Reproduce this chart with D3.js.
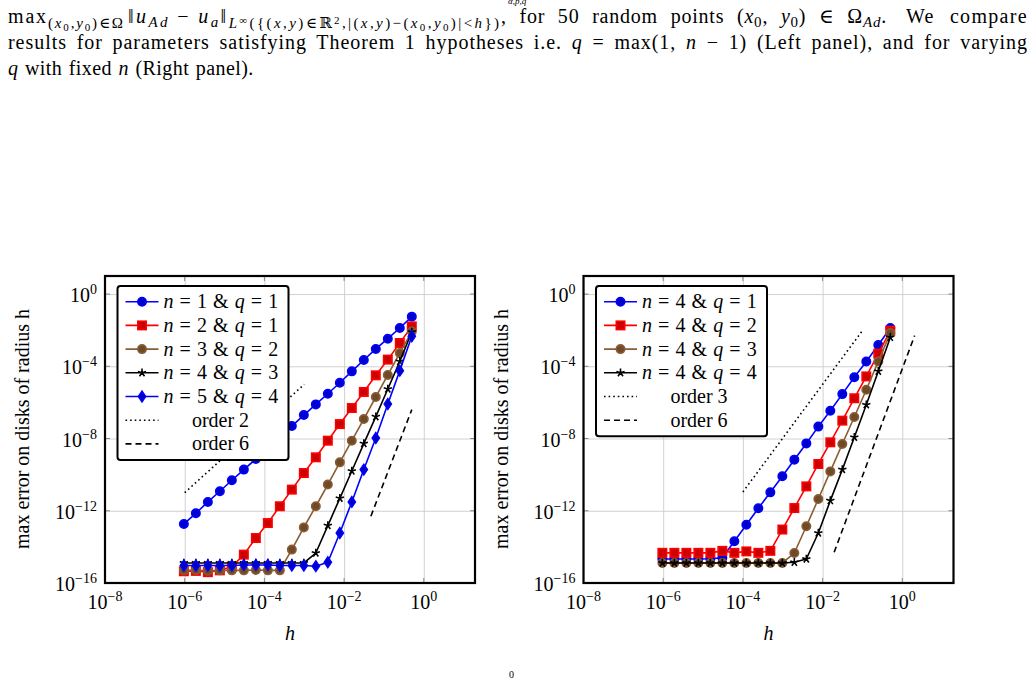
<!DOCTYPE html>
<html lang="en">
<head>
<meta charset="UTF-8">
<title>max error on disks of radius h</title>
<script src="https://cdn.jsdelivr.net/npm/d3@7/dist/d3.min.js"></script>
<style>
    body { margin: 0; background: #fff; }
    svg text { font-family: "Liberation Serif", "DejaVu Serif", serif; fill: #000; white-space: pre; }
</style>
</head>
<body>
<div id="d3"></div>
<script>
    var width = 1034;
    var height = 679;

    // h = 2^-20 ... 2^-1
    var hValues = [9.537e-7, 1.907e-6, 3.815e-6, 7.629e-6, 1.526e-5, 3.052e-5, 6.104e-5, 1.221e-4, 2.441e-4, 4.883e-4,
                   9.766e-4, 1.953e-3, 3.906e-3, 7.813e-3, 1.563e-2, 3.125e-2, 6.25e-2, 0.125, 0.25, 0.5];

    // log10 of the max error
    // left panel: q = max(1, n-1)
    var leftN1Q1 = [-12.73, -12.14, -11.51, -10.92, -10.31, -9.72, -9.13, -8.52, -7.91, -7.31,
                    -6.70, -6.11, -5.52, -4.91, -4.28, -3.65, -3.04, -2.47, -1.88, -1.25];
    var leftN2Q1 = [-15.35, -15.33, -15.40, -15.30, -15.10, -14.43, -13.51, -12.68, -11.75, -10.83,
                    -9.91, -9.04, -8.12, -7.20, -6.31, -5.42, -4.50, -3.63, -2.71, -1.79];
    var leftN3Q2 = [-15.30, -15.28, -15.32, -15.30, -15.30, -15.30, -15.28, -15.30, -15.30, -14.15,
                    -12.92, -11.75, -10.55, -9.32, -8.12, -6.92, -5.70, -4.48, -3.27, -2.07];
    var leftN4Q3 = [-14.89, -14.89, -14.89, -14.89, -14.89, -14.89, -14.89, -14.89, -14.89, -14.89,
                    -14.89, -14.34, -12.82, -11.31, -9.80, -8.28, -6.79, -5.26, -3.73, -2.10];
    var leftN5Q4 = [-15.03, -15.03, -15.03, -15.03, -15.03, -15.00, -15.00, -15.00, -15.03, -15.03,
                    -15.03, -15.07, -14.85, -13.23, -11.51, -9.72, -7.97, -6.09, -4.24, -2.34];

    // right panel: n = 4, varying q
    var rightQ1 = [-14.67, -14.67, -14.67, -14.67, -14.66, -14.60, -13.69, -12.77, -11.86, -10.98,
                   -10.09, -9.17, -8.27, -7.34, -6.46, -5.54, -4.61, -3.73, -2.82, -1.88];
    var rightQ2 = [-14.33, -14.33, -14.33, -14.33, -14.33, -14.22, -14.33, -14.25, -14.33, -14.22,
                   -13.04, -11.85, -10.65, -9.41, -8.21, -7.01, -5.77, -4.56, -3.30, -2.03];
    var rightQ3 = [-14.89, -14.89, -14.89, -14.89, -14.89, -14.89, -14.89, -14.89, -14.89, -14.89,
                   -14.89, -14.34, -12.86, -11.35, -9.82, -8.30, -6.81, -5.30, -3.73, -2.16];
    var rightQ4 = [-14.89, -14.89, -14.89, -14.89, -14.89, -14.89, -14.89, -14.89, -14.89, -14.89,
                   -14.89, -14.85, -14.67, -13.23, -11.44, -9.72, -7.93, -6.13, -4.28, -2.40];

    // reference slopes: [h start, h end], [err start, err end]
    var leftOrder2H = [1e-6, 1e-3], leftOrder2E = [1e-11, 1e-5];
    var leftOrder6H = [0.047, 0.5], leftOrder6E = [5e-13, 4e-7];
    var rightOrder3H = [1e-4, 0.1], rightOrder3E = [1.1e-11, 9.5e-3];
    var rightOrder6H = [0.0195, 2.04], rightOrder6E = [5e-15, 5e-3];

    var leftLegendN = [1, 2, 3, 4, 5];
    var leftLegendQ = [1, 1, 2, 3, 4];
    var rightLegendN = [4, 4, 4, 4];
    var rightLegendQ = [1, 2, 3, 4];

    var xTickExp = [-8, -6, -4, -2, 0];
    var yTickExp = [-16, -12, -8, -4, 0];

    var blue = "#0000ff", red = "#ff0000", brown = "#8a5c33", black = "#000000";

    var svg = d3.select("#d3")
            .append("svg")
            .attr("width", width)
            .attr("height", height);

    // rich text: parts with optional italic (i), size (f) and baseline shift (s, + is down)
    function rich(sel, parts) {
        var shift = 0;
        parts.forEach(function (p) {
            var s = p.s || 0;
            var t = sel.append("tspan").text(p.t).attr("dy", s - shift);
            shift = s;
            if (p.i) t.style("font-style", "italic");
            if (p.f) t.style("font-size", p.f + "px");
        });
        return sel;
    }

    // stretch a line to a given width: part letter spacing, rest word spacing
    function justify(sel, target, share) {
        var node = sel.node();
        var w = node.getComputedTextLength();
        var txt = node.textContent;
        if (target <= w) return;
        sel.style("letter-spacing", ((target - w) * share / txt.length) + "px");
        w = node.getComputedTextLength();
        var n = (txt.match(/ /g) || []).length;
        if (n > 0 && target > w) sel.style("word-spacing", ((target - w) / n) + "px");
    }

    function capText(x, y) {
        return svg.append("text").attr("x", x).attr("y", y).style("font-size", "20px");
    }

    // caption, line 1 in pieces
    var S = 15, SS = 11;
    var capA = capText(8, 23);
    rich(capA, [
        {t: "max"},
        {t: "(", f: S, s: 5}, {t: "x", i: 1, f: S, s: 5}, {t: "0", f: SS, s: 8}, {t: ",", f: S, s: 5},
        {t: "y", i: 1, f: S, s: 5}, {t: "0", f: SS, s: 8}, {t: ")∈Ω", f: S, s: 5}
    ]);
    capA.attr("textLength", 115).attr("lengthAdjust", "spacing");

    var capB = capText(128, 23);
    rich(capB, [
        {t: "‖"}, {t: "u", i: 1}, {t: "Ad", i: 1, f: S, s: 4}, {t: " − "}, {t: "u", i: 1},
        {t: "a", i: 1, f: S, s: 4}, {t: "‖"},
        {t: "L", i: 1, f: S, s: 5}, {t: "∞", f: SS, s: 1}, {t: "({(", f: S, s: 5}, {t: "x", i: 1, f: S, s: 5},
        {t: ",", f: S, s: 5}, {t: "y", i: 1, f: S, s: 5}, {t: ")∈ℝ", f: S, s: 5}, {t: "2", f: SS, s: 1},
        {t: ",|(", f: S, s: 5}, {t: "x", i: 1, f: S, s: 5}, {t: ",", f: S, s: 5}, {t: "y", i: 1, f: S, s: 5},
        {t: ")−(", f: S, s: 5}, {t: "x", i: 1, f: S, s: 5}, {t: "0", f: SS, s: 8}, {t: ",", f: S, s: 5},
        {t: "y", i: 1, f: S, s: 5}, {t: "0", f: SS, s: 8}, {t: ")|<", f: S, s: 5}, {t: "h", i: 1, f: S, s: 5},
        {t: "})", f: S, s: 5}
    ]);
    capB.attr("textLength", 371).attr("lengthAdjust", "spacing");

    var capC = capText(501, 23);
    rich(capC, [
        {t: ", for 50 random points ("}, {t: "x", i: 1}, {t: "0", f: S, s: 4}, {t: ", "}, {t: "y", i: 1},
        {t: "0", f: S, s: 4}, {t: ") ∈ Ω"}, {t: "Ad", i: 1, f: S, s: 4}, {t: "."}
    ]);
    justify(capC, 386, 0.35);

    var capD = capText(1028, 23).attr("text-anchor", "end").text("We compare");
    justify(capD, 122, 0.6);

    var cap2 = capText(8, 49);
    rich(cap2, [
        {t: "results for parameters satisfying Theorem 1 hypotheses i.e. "}, {t: "q", i: 1},
        {t: " = max(1, "}, {t: "n", i: 1}, {t: " − 1) (Left panel), and for varying"}
    ]);
    justify(cap2, 1020, 0.6);

    var cap3 = capText(8, 75).style("letter-spacing", "0.45px").style("word-spacing", "1px");
    rich(cap3, [{t: "q", i: 1}, {t: " with fixed "}, {t: "n", i: 1}, {t: " (Right panel)."}]);

    // edge bits of the page above and below (cut off in the page too)
    svg.append("text").attr("x", 508).attr("y", 3.5).style("font-size", "9px").style("font-style", "italic").text("α,p,q");
    svg.append("text").attr("x", 509).attr("y", 678).style("font-size", "10px").text("0");

    function marker(g, type, color, fill, cx, cy) {
        if (type === "circle") {
            g.append("circle").attr("cx", cx).attr("cy", cy).attr("r", 4.2)
                .attr("fill", fill).attr("stroke", color).attr("stroke-width", 1.6);
        } else if (type === "square") {
            g.append("rect").attr("x", cx - 4.2).attr("y", cy - 4.2).attr("width", 8.4).attr("height", 8.4)
                .attr("fill", fill).attr("stroke", color).attr("stroke-width", 1.6);
        } else if (type === "diamond") {
            g.append("path").attr("d", "M" + cx + "," + (cy - 5.6) + "L" + (cx + 3.8) + "," + cy + "L" + cx + "," + (cy + 5.6) + "L" + (cx - 3.8) + "," + cy + "Z")
                .attr("fill", fill).attr("stroke", color).attr("stroke-width", 1.2);
        } else if (type === "star") {
            var d = "";
            for (var k = 0; k < 5; k++) {
                var a = -Math.PI / 2 + k * 2 * Math.PI / 5;
                d += "M" + cx + "," + cy + "L" + (cx + 4.3 * Math.cos(a)) + "," + (cy + 4.3 * Math.sin(a));
            }
            g.append("path").attr("d", d).attr("stroke", color).attr("stroke-width", 1.6).attr("fill", "none");
        }
    }

    function drawPanel(x0, series, refs, legend) {
        var x = d3.scaleLog().domain([1e-8, Math.pow(10, 1.285)]).range([x0, x0 + 370]);
        var y = d3.scaleLog().domain([1e-16, 10]).range([583, 276]);
        var g = svg.append("g");
        var top = 276, bottom = 583, left = x0, right = x0 + 370;

        // grid
        g.append("g").attr("transform", "translate(0," + bottom + ")")
            .call(d3.axisBottom(x).tickValues(xTickExp.map(function (e) { return Math.pow(10, e); }))
                .tickSize(-(bottom - top)).tickFormat(""))
            .call(function (a) {
                a.select(".domain").remove();
                a.selectAll("line").attr("stroke", "#cccccc").attr("stroke-width", 0.9);
            });
        g.append("g").attr("transform", "translate(" + left + ",0)")
            .call(d3.axisLeft(y).tickValues(yTickExp.map(function (e) { return Math.pow(10, e); }))
                .tickSize(-(right - left)).tickFormat(""))
            .call(function (a) {
                a.select(".domain").remove();
                a.selectAll("line").attr("stroke", "#cccccc").attr("stroke-width", 0.9);
            });

        // small tick marks on the frame
        xTickExp.forEach(function (e) {
            var px = x(Math.pow(10, e));
            g.append("line").attr("x1", px).attr("x2", px).attr("y1", bottom).attr("y2", bottom - 5).attr("stroke", "#888").attr("stroke-width", 1);
            g.append("line").attr("x1", px).attr("x2", px).attr("y1", top).attr("y2", top + 5).attr("stroke", "#888").attr("stroke-width", 1);
        });
        yTickExp.forEach(function (e) {
            var py = y(Math.pow(10, e));
            g.append("line").attr("x1", left).attr("x2", left + 5).attr("y1", py).attr("y2", py).attr("stroke", "#888").attr("stroke-width", 1);
            g.append("line").attr("x1", right).attr("x2", right - 5).attr("y1", py).attr("y2", py).attr("stroke", "#888").attr("stroke-width", 1);
        });

        // reference order lines
        refs.forEach(function (r) {
            g.append("line")
                .attr("x1", x(r.h[0])).attr("y1", y(r.e[0]))
                .attr("x2", x(r.h[1])).attr("y2", y(r.e[1]))
                .attr("stroke", "#000").attr("stroke-width", 1.6)
                .attr("stroke-dasharray", r.dash);
        });

        // series
        var line = d3.line()
            .x(function (d) { return x(d[0]); })
            .y(function (d) { return y(Math.pow(10, d[1])); });
        series.forEach(function (s) {
            var pts = hValues.map(function (h, i) { return [h, s.values[i]]; });
            var sg = g.append("g");
            sg.append("path").attr("d", line(pts)).attr("fill", "none")
                .attr("stroke", s.color).attr("stroke-width", 1.6).attr("stroke-linejoin", "round");
            pts.forEach(function (p) {
                marker(sg, s.mark, s.color, s.fill, x(p[0]), y(Math.pow(10, p[1])));
            });
        });

        // frame
        g.append("rect").attr("x", left).attr("y", top).attr("width", right - left).attr("height", bottom - top)
            .attr("fill", "none").attr("stroke", "#000").attr("stroke-width", 2.2);

        // tick labels
        xTickExp.forEach(function (e) {
            var t = g.append("text").attr("x", x(Math.pow(10, e))).attr("y", 609)
                .attr("text-anchor", "middle").style("font-size", "20px");
            rich(t, [{t: "10"}, {t: e < 0 ? "−" + (-e) : "0", f: 14, s: -8}]);
        });
        yTickExp.forEach(function (e) {
            var t = g.append("text").attr("x", left - 8).attr("y", y(Math.pow(10, e)) + 8)
                .attr("text-anchor", "end").style("font-size", "20px");
            rich(t, [{t: "10"}, {t: e < 0 ? "−" + (-e) : "0", f: 14, s: -8}]);
        });

        // axis labels
        g.append("text").attr("x", (left + right) / 2).attr("y", 640).attr("text-anchor", "middle")
            .style("font-size", "20px").style("font-style", "italic").text("h");
        g.append("text").attr("transform", "translate(" + (x0 - 76) + ",429) rotate(-90)")
            .attr("text-anchor", "middle").style("font-size", "20px").text("max error on disks of radius h");

        // legend
        var lx = x0 + 12.5, ly = 286, lw = 171, rowH = 23.7;
        var rows = legend.length;
        g.append("rect").attr("x", lx).attr("y", ly).attr("width", lw).attr("height", rows * rowH + 8)
            .attr("rx", 3).attr("fill", "#fff").attr("stroke", "#000").attr("stroke-width", 2);
        legend.forEach(function (r, i) {
            var cy = ly + 15.7 + i * rowH;
            var lg = g.append("g");
            lg.append("line").attr("x1", lx + 8).attr("x2", lx + 41).attr("y1", cy).attr("y2", cy)
                .attr("stroke", r.color).attr("stroke-width", 1.6).attr("stroke-dasharray", r.dash || null);
            if (r.mark) marker(lg, r.mark, r.color, r.fill, lx + 24.5, cy);
            var t = lg.append("text").attr("y", cy + 6.5).style("font-size", "20px");
            if (r.n !== undefined) {
                t.attr("x", lx + 46);
                rich(t, [{t: "n", i: 1}, {t: " = " + r.n + " & "}, {t: "q", i: 1}, {t: " = " + r.q}]);
                t.style("word-spacing", "1.1px");
            } else {
                t.attr("x", lx + 103).attr("text-anchor", "middle").text(r.label);
            }
        });
    }

    function darker(c) {
        var k = d3.rgb(c);
        return d3.rgb(k.r * 0.8, k.g * 0.8, k.b * 0.8).toString();
    }

    var leftSeries = [
        {values: leftN1Q1, color: blue, fill: darker(blue), mark: "circle"},
        {values: leftN2Q1, color: red, fill: darker(red), mark: "square"},
        {values: leftN3Q2, color: brown, fill: darker(brown), mark: "circle"},
        {values: leftN4Q3, color: black, fill: black, mark: "star"},
        {values: leftN5Q4, color: blue, fill: darker(blue), mark: "diamond"}
    ];
    var leftLegend = leftSeries.map(function (s, i) {
        return {color: s.color, fill: s.fill, mark: s.mark, n: leftLegendN[i], q: leftLegendQ[i]};
    }).concat([
        {color: black, dash: "1.6,3", label: "order 2"},
        {color: black, dash: "6,4", label: "order 6"}
    ]);
    drawPanel(105, leftSeries, [
        {h: leftOrder2H, e: leftOrder2E, dash: "1.6,3"},
        {h: leftOrder6H, e: leftOrder6E, dash: "6,4"}
    ], leftLegend);

    var rightSeries = [
        {values: rightQ1, color: blue, fill: darker(blue), mark: "circle"},
        {values: rightQ2, color: red, fill: darker(red), mark: "square"},
        {values: rightQ3, color: brown, fill: darker(brown), mark: "circle"},
        {values: rightQ4, color: black, fill: black, mark: "star"}
    ];
    var rightLegend = rightSeries.map(function (s, i) {
        return {color: s.color, fill: s.fill, mark: s.mark, n: rightLegendN[i], q: rightLegendQ[i]};
    }).concat([
        {color: black, dash: "1.6,3", label: "order 3"},
        {color: black, dash: "6,4", label: "order 6"}
    ]);
    drawPanel(583.5, rightSeries, [
        {h: rightOrder3H, e: rightOrder3E, dash: "1.6,3"},
        {h: rightOrder6H, e: rightOrder6E, dash: "6,4"}
    ], rightLegend);
</script>
</body>
</html>
